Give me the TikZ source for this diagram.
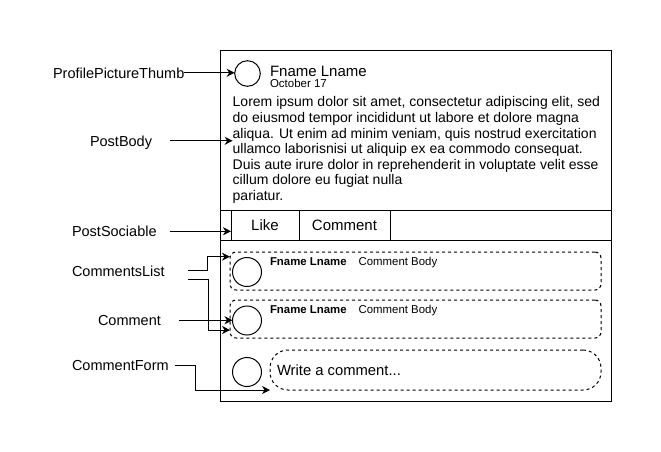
\documentclass[tikz,border=0pt]{standalone}
\usepackage{fontspec}
\setmainfont{Liberation Sans}
\usetikzlibrary{arrows.meta, positioning, calc}
\newcommand{\lblsize}{\fontsize{14.5}{17}\selectfont}
\newcommand{\bodysize}{\fontsize{14}{15.6}\selectfont}

\begin{document}
\begin{tikzpicture}[x=1pt, y=-1pt, line width=1pt,
    every node/.style={inner sep=0pt, outer sep=0pt},
    lbl/.style={font=\lblsize, anchor=base west, text height=10.5pt, text depth=0pt},
    avatar/.style={circle, draw, minimum size=29pt},
    cbox/.style={draw, dash pattern=on 3pt off 3pt, rounded corners=6pt, minimum width=371pt, minimum height=38pt},
    cell/.style={draw, minimum height=30pt, font=\fontsize{15}{18}\selectfont},
    cname/.style={font=\bfseries\fontsize{11.4}{13}\selectfont, anchor=base west},
    cbody/.style={font=\fontsize{11.4}{13}\selectfont},
    arr/.style={-{Stealth[length=8pt, width=8pt, inset=2.5pt]}}]
    \useasboundingbox (0,0) rectangle (661,451);
    % post card
    \node[draw, minimum width=391pt, minimum height=351pt] (card) at (415.5,225.5) {};
    \node[avatar, minimum size=25.6pt] (thumb) at (247.5,73.5) {};
    \node[font=\fontsize{15}{18}\selectfont, anchor=base west, text depth=0pt] (name) at (270,76.2) {Fname Lname};
    \node[font=\fontsize{11.5}{13}\selectfont, anchor=base west, text height=8pt] (date) at (270,87) {October 17};
    % base of a multi-line node is its last line
    \node[font=\bodysize, align=left, anchor=base west] (body) at (232.7,200.5) {Lorem ipsum dolor sit amet, consectetur adipiscing elit, sed\\
        do eiusmod tempor incididunt ut labore et dolore magna\\
        aliqua. Ut enim ad minim veniam, quis nostrud exercitation\\
        ullamco laborisnisi ut aliquip ex ea commodo consequat.\\
        Duis aute irure dolor in reprehenderit in voluptate velit esse\\
        cillum dolore eu fugiat nulla\\
        pariatur.};
    % sociable bar
    \node[cell, minimum width=68pt] (like) at (265,225) {Like};
    \node[cell, minimum width=91pt, right=0pt of like] (share) {Comment};
    \draw (card.west |- like.north) -- (card.east |- like.north);
    \draw (card.west |- like.south) -- (card.east |- like.south);
    % comments
    \node[cbox] (cmt1) at (415.5,271) {};
    \node[cbox] (cmt2) at (415.5,319) {};
    \node[avatar] (av1) at (247,272) {};
    \node[avatar] (av2) at (247,320.5) {};
    \node[avatar] (av3) at (247,372) {};
    \node[cname] (n1) at (270,265) {Fname Lname};
    \node[cbody, right=12pt of n1.base east, anchor=base west] (b1) {Comment Body};
    \node[cname] (n2) at (270,313) {Fname Lname};
    \node[cbody, right=12pt of n2.base east, anchor=base west] (b2) {Comment Body};
    \node[draw, dash pattern=on 3pt off 3pt, rounded corners=18pt, minimum width=331pt, minimum height=40pt] (form) at (435.5,370) {};
    \node[font=\fontsize{14.8}{17}\selectfont, anchor=west] (hint) at ([xshift=7pt]form.west) {Write a comment...};
    % labels
    \node[lbl] (lthumb) at (53,78) {ProfilePictureThumb};
    \node[lbl] (lbody) at (90,146) {PostBody};
    \node[lbl] (lsoc) at (72,236.5) {PostSociable};
    \node[lbl] (llist) at (72,276) {CommentsList};
    \node[lbl] (lcmt) at (98,325.5) {Comment};
    \node[lbl] (lform) at (72,370.5) {CommentForm};
    \draw[arr] (lthumb.east) -- (lthumb.east -| thumb.west);
    \draw[arr] ([xshift=18pt]lbody.east) -- (lbody.east -| body.west);
    \draw[arr] ([xshift=13pt]lsoc.east) -- (lsoc.east -| like.west);
    \draw[arr] ([xshift=23pt]llist.east) -- ++(20,0) |- ([yshift=-4.7pt]cmt1.north west);
    \draw[arr] ([xshift=23pt,yshift=-8.7pt]llist.east) -- ++(21,0) |- ([yshift=8pt]cmt2.south west);
    \draw[arr] ([xshift=18pt]lcmt.east) -- (lcmt.east -| av2.west);
    \draw[arr] ([xshift=6pt]lform.east) -- ++(20.6,0) |- (form.south west);
\end{tikzpicture}
\end{document}
